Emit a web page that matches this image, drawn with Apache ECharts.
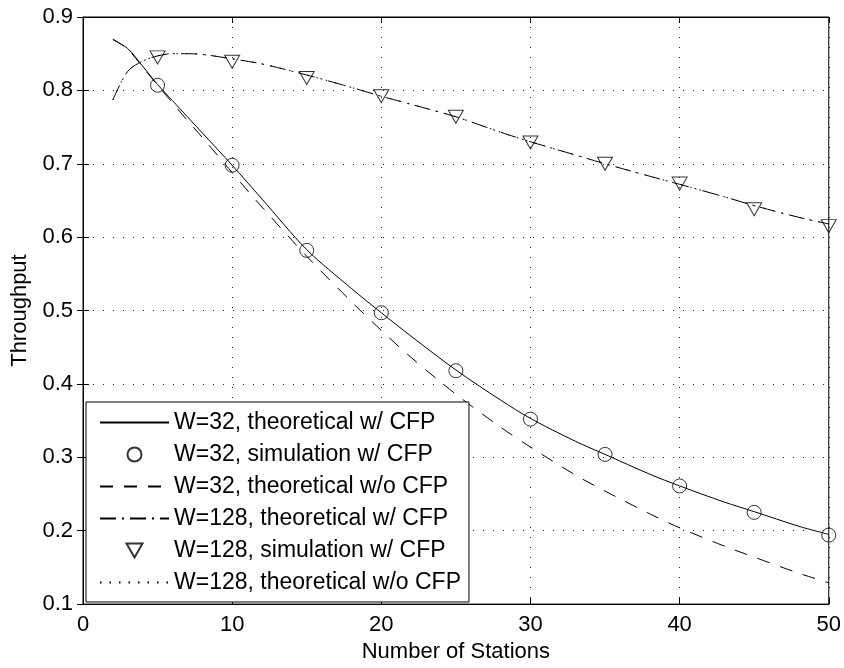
<!DOCTYPE html>
<html>
<head>
<meta charset="utf-8">
<title>Throughput vs Number of Stations</title>
<script src="https://cdn.jsdelivr.net/npm/echarts@6/dist/echarts.min.js"></script>
<style>
  html, body { margin: 0; padding: 0; background: #fff; }
  #chart { width: 844px; height: 668px; }
</style>
</head>
<body>
<div id="chart"></div>
<script>
// x positions
const xTheory = [2, 3, 4, 5, 6, 7, 8, 10, 12, 15, 18, 20, 22, 25, 28, 30, 33, 35, 38, 40, 43, 45, 48, 50];
// simulation points
const xSim = [5, 10, 15, 20, 25, 30, 35, 40, 45, 50];

const w32TheoCfp = [0.869, 0.857, 0.833, 0.808, 0.786, 0.764, 0.742, 0.698, 0.652, 0.583, 0.530, 0.497,
  0.465, 0.419, 0.378, 0.353, 0.322, 0.304, 0.277, 0.261, 0.239, 0.226, 0.206, 0.195];
const w32SimCfp = [0.807, 0.698, 0.582, 0.497, 0.418, 0.352, 0.304, 0.261, 0.225, 0.194];
const w32TheoNoCfp = [0.870, 0.856, 0.832, 0.807, 0.783, 0.759, 0.736, 0.688, 0.641, 0.574, 0.512, 0.473,
  0.436, 0.386, 0.341, 0.314, 0.276, 0.254, 0.223, 0.204, 0.179, 0.164, 0.142, 0.129];
const w128TheoCfp = [0.787, 0.826, 0.840, 0.847, 0.850, 0.850, 0.849, 0.843, 0.836, 0.821, 0.804, 0.792,
  0.781, 0.764, 0.743, 0.730, 0.712, 0.700, 0.683, 0.672, 0.655, 0.643, 0.627, 0.618];
const w128SimCfp = [0.845, 0.839, 0.817, 0.792, 0.764, 0.729, 0.700, 0.673, 0.638, 0.615];
const w128TheoNoCfp = [0.787, 0.826, 0.840, 0.847, 0.850, 0.850, 0.849, 0.843, 0.836, 0.821, 0.804, 0.792,
  0.781, 0.764, 0.743, 0.730, 0.712, 0.700, 0.683, 0.672, 0.655, 0.643, 0.627, 0.618];

const seriesNames = [
  'W=32, theoretical w/ CFP',
  'W=32, simulation w/ CFP',
  'W=32, theoretical w/o CFP',
  'W=128, theoretical w/ CFP',
  'W=128, simulation w/ CFP',
  'W=128, theoretical w/o CFP'
];

const FONT = '"Liberation Sans", Arial, Helvetica, sans-serif';
const TRIANGLE_DOWN = 'path://M0,0L16,0L8,14Z';

// zip x/y into pairs for value axes
function pairs(xs, ys) {
  return xs.map((x, i) => [x, ys[i]]);
}

// theoretical curve
function lineSeries(name, ys, dash) {
  return {
    name: name,
    type: 'line',
    data: pairs(xTheory, ys),
    symbol: 'none',
    smooth: 0.3,
    lineStyle: { color: '#000', width: 1, type: dash },
    itemStyle: { color: '#000' },
    z: 3
  };
}

// hollow simulation markers
function markerSeries(name, ys, symbol, size) {
  return {
    name: name,
    type: 'scatter',
    data: pairs(xSim, ys),
    symbol: symbol,
    symbolSize: size,
    itemStyle: { color: 'transparent', borderColor: '#000', borderWidth: 1 },
    z: 4
  };
}

// legend entries: lines get no marker, markers get no line
const hiddenMarker = { color: 'transparent', borderColor: 'transparent', opacity: 0 };
const legendData = [
  { name: seriesNames[0], itemStyle: hiddenMarker },
  { name: seriesNames[1], icon: 'circle' },
  { name: seriesNames[2], itemStyle: hiddenMarker },
  { name: seriesNames[3], itemStyle: hiddenMarker },
  { name: seriesNames[4], icon: TRIANGLE_DOWN },
  { name: seriesNames[5], itemStyle: hiddenMarker }
];

const chart = echarts.init(document.getElementById('chart'));

const gridLine = { show: true, lineStyle: { color: '#222', width: 1, type: [1, 9] } };
const tickInside = { show: true, inside: true, length: 6, lineStyle: { color: '#000' } };
const axisLineBlack = { show: true, lineStyle: { color: '#000', width: 1 } };

const option = {
  animation: false,
  backgroundColor: '#fff',
  textStyle: { fontFamily: FONT },
  grid: {
    left: 83, right: 15, top: 17, bottom: 63,
    show: true, borderColor: '#000', borderWidth: 1
  },
  legend: {
    orient: 'vertical',
    left: 86,
    top: 402,
    data: legendData,
    backgroundColor: '#fff',
    borderColor: '#000',
    borderWidth: 1,
    padding: [9, 8, 8, 13],
    itemWidth: 69,
    itemHeight: 14,
    itemGap: 9,
    textStyle: { fontFamily: FONT, fontSize: 23, color: '#000', lineHeight: 22 },
    z: 10
  },
  xAxis: [
    {
      type: 'value',
      min: 0, max: 50, interval: 10,
      name: 'Number of Stations',
      nameLocation: 'middle',
      nameGap: 34,
      nameTextStyle: { fontFamily: FONT, fontSize: 22, color: '#000' },
      axisLine: axisLineBlack,
      axisTick: tickInside,
      axisLabel: { margin: 10, fontFamily: FONT, fontSize: 22, color: '#000' },
      splitLine: gridLine
    },
    {
      type: 'value', position: 'top',
      min: 0, max: 50, interval: 10,
      axisLine: axisLineBlack,
      axisTick: tickInside,
      axisLabel: { show: false },
      splitLine: { show: false }
    }
  ],
  yAxis: [
    {
      type: 'value',
      min: 0.1, max: 0.9, interval: 0.1,
      name: 'Throughput',
      nameLocation: 'middle',
      nameGap: 52,
      nameTextStyle: { fontFamily: FONT, fontSize: 22, color: '#000' },
      axisLine: axisLineBlack,
      axisTick: tickInside,
      axisLabel: {
        margin: 10, fontFamily: FONT, fontSize: 22, color: '#000',
        formatter: v => v.toFixed(1)
      },
      splitLine: gridLine
    },
    {
      type: 'value', position: 'right',
      min: 0.1, max: 0.9, interval: 0.1,
      axisLine: axisLineBlack,
      axisTick: tickInside,
      axisLabel: { show: false },
      splitLine: { show: false }
    }
  ],
  series: [
    lineSeries(seriesNames[0], w32TheoCfp, 'solid'),
    markerSeries(seriesNames[1], w32SimCfp, 'circle', 14),
    lineSeries(seriesNames[2], w32TheoNoCfp, [13, 11]),
    lineSeries(seriesNames[3], w128TheoCfp, [16, 6, 2, 6]),
    markerSeries(seriesNames[4], w128SimCfp, TRIANGLE_DOWN, [15, 13]),
    lineSeries(seriesNames[5], w128TheoNoCfp, [1.5, 8])
  ]
};

chart.setOption(option);

window.addEventListener('resize', () => {
  chart.resize();
});
</script>
</body>
</html>
